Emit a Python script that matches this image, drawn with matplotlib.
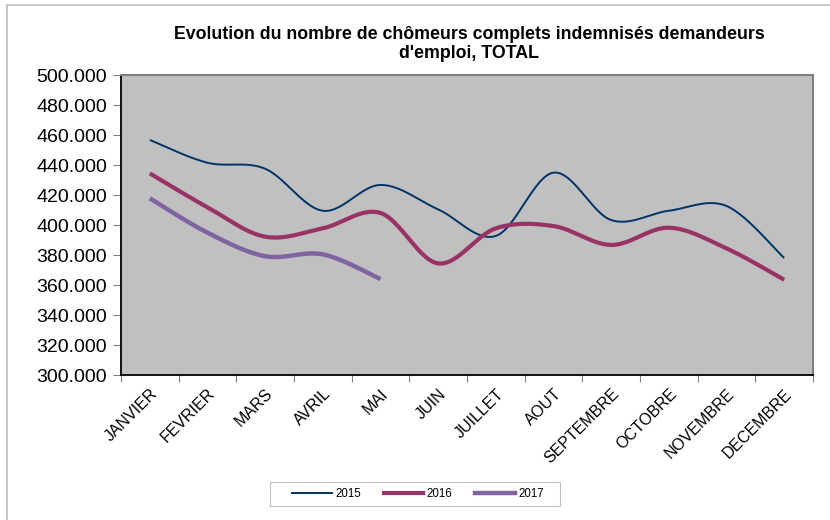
import matplotlib
matplotlib.use("Agg")
import matplotlib.pyplot as plt
import numpy as np
from matplotlib.lines import Line2D
from matplotlib.patches import Rectangle

plt.rcParams['font.family'] = ['Liberation Sans', 'DejaVu Sans']

months = ["JANVIER", "FEVRIER", "MARS", "AVRIL", "MAI", "JUIN", "JUILLET",
          "AOUT", "SEPTEMBRE", "OCTOBRE", "NOVEMBRE", "DECEMBRE"]
y2015 = [456.7, 441.5, 437.5, 409.5, 426.7, 410.4, 392.7, 434.9, 403.3, 409.5, 412.7, 378.0]
y2016 = [434.4, 411.8, 392.2, 397.8, 408.0, 374.4, 397.8, 399.3, 386.7, 398.2, 384.4, 363.5]
y2017 = [417.8, 394.9, 379.2, 380.4, 364.0]
yticks = [300, 320, 340, 360, 380, 400, 420, 440, 460, 480, 500]
ytick_labels = ["300.000", "320.000", "340.000", "360.000", "380.000", "400.000",
                "420.000", "440.000", "460.000", "480.000", "500.000"]
series = [("2015", y2015, "#003366", 1.4),
          ("2016", y2016, "#993366", 3.0),
          ("2017", y2017, "#8064A2", 3.2)]


def smooth(xs, ys, n=30):
    xs = np.asarray(xs, float)
    ys = np.asarray(ys, float)
    px = np.concatenate([[xs[0]], xs, [xs[-1]]])
    py = np.concatenate([[ys[0]], ys, [ys[-1]]])
    ox, oy = [], []
    for i in range(1, len(px) - 2):
        p0 = np.array([px[i], py[i]])
        p3 = np.array([px[i + 1], py[i + 1]])
        c1 = p0 + (np.array([px[i + 1], py[i + 1]]) - np.array([px[i - 1], py[i - 1]])) / 6.0
        c2 = p3 - (np.array([px[i + 2], py[i + 2]]) - np.array([px[i], py[i]])) / 6.0
        t = np.linspace(0, 1, n)[:, None]
        pts = ((1 - t) ** 3) * p0 + 3 * ((1 - t) ** 2) * t * c1 + 3 * (1 - t) * t ** 2 * c2 + t ** 3 * p3
        if i > 1:
            pts = pts[1:]
        ox.extend(pts[:, 0])
        oy.extend(pts[:, 1])
    return ox, oy


fig = plt.figure(figsize=(8.3, 5.2), dpi=100)
ax = fig.add_axes([121 / 830, 1 - 375 / 520, (813 - 121) / 830, 300 / 520])
ax.set_facecolor("#C0C0C0")

for name, vals, col, lw in series:
    sx, sy = smooth(range(len(vals)), vals)
    ax.plot(sx, sy, color=col, lw=lw, solid_capstyle='butt', label=name)

ax.set_xlim(-0.5, 11.5)
ax.set_ylim(300, 500)
ax.set_yticks(yticks)
ax.set_yticklabels(ytick_labels, fontsize=14)
ax.tick_params(axis='y', direction='out', length=6, width=0.8, color='#808080', pad=4)

ax.set_xticks(np.arange(12))
ax.set_xticklabels(months, fontsize=11.5, rotation=45, ha='right', va='top',
                   rotation_mode='anchor')
ax.tick_params(axis='x', which='major', length=0, pad=8)
ax.set_xticks(np.arange(-0.5, 12, 1), minor=True)
ax.tick_params(axis='x', which='minor', direction='out', length=5, width=0.8, color='#808080')

for s in ['left', 'bottom']:
    ax.spines[s].set_color('black')
    ax.spines[s].set_linewidth(1.3)
for s in ['top', 'right']:
    ax.spines[s].set_color('#808080')
    ax.spines[s].set_linewidth(1.5)

fig.text(469 / 830, 1 - 44 / 520,
         "Evolution du nombre de chômeurs complets indemnisés demandeurs\nd'emploi, TOTAL",
         ha='center', va='center', fontsize=12.8, fontweight='bold', linespacing=1.15)

# outer chart border (left and top visible)
fig.add_artist(Line2D([7 / 830, 7 / 830], [0, 1 - 5 / 520], color='#BFBFBF', lw=1.2,
                      transform=fig.transFigure))
fig.add_artist(Line2D([7 / 830, 1], [1 - 5 / 520, 1 - 5 / 520], color='#BFBFBF', lw=1.2,
                      transform=fig.transFigure))

# legend frame
fig.add_artist(Rectangle((270 / 830, 1 - 506 / 520), 290 / 830, 24 / 520,
                         transform=fig.transFigure, facecolor='white',
                         edgecolor='#BFBFBF', lw=0.8))
handles = [Line2D([], [], color=c, lw=lw) for _, _, c, lw in series]
leg = fig.legend(handles, [s[0] for s in series], loc='center',
                 bbox_to_anchor=(418 / 830, 1 - 494 / 520), ncol=3, fontsize=8.3,
                 frameon=False, handlelength=3.4, columnspacing=2.0,
                 handletextpad=0.3, borderpad=0, borderaxespad=0)

fig.savefig("out.png", dpi=100)
